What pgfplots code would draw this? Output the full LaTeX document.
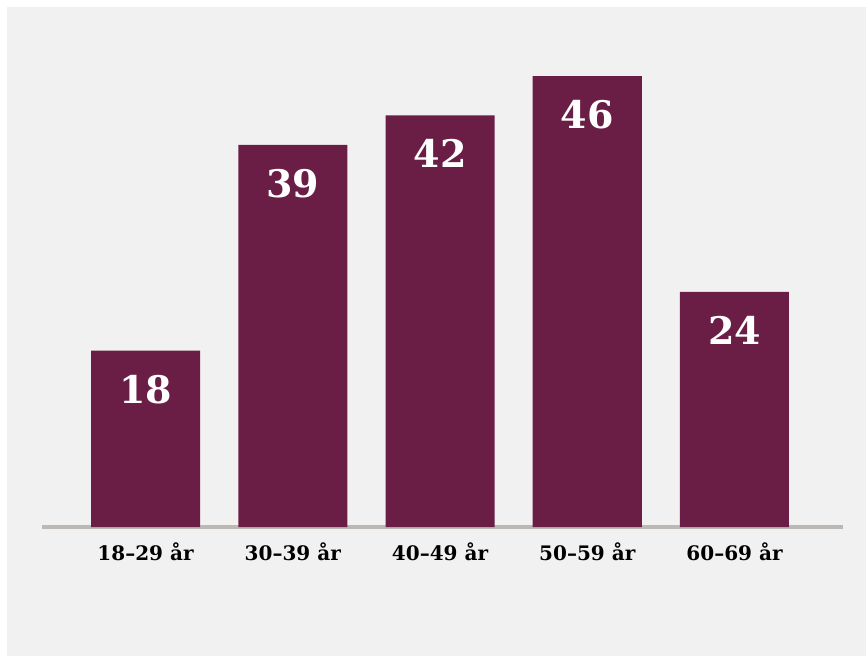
\documentclass[border=0pt]{standalone}
\usepackage{fontspec}
\setmainfont{DejaVu Serif}
\usepackage{pgfplots}
\pgfplotsset{compat=1.18}
\definecolor{barcol}{RGB}{107,30,69}
\definecolor{basecol}{RGB}{190,184,180}
\definecolor{bgcol}{RGB}{241,241,241}
\begin{document}
\begin{tikzpicture}
\fill[white] (-42pt,-129pt) rectangle (824pt,527pt);
\fill[bgcol] (-35pt,-129pt) rectangle (824pt,520pt);
\useasboundingbox (-42pt,-129pt) rectangle (824pt,527pt);
\begin{axis}[
  at={(0pt,0pt)}, anchor=south west,
  scale only axis,
  width=801pt, height=490pt,
  xmin=-0.703, xmax=4.737,
  ymin=0, ymax=50,
  axis x line*=bottom,
  axis y line=none,
  x axis line style={-, line width=4pt, color=basecol},
  xtick=data,
  xticklabels={18–29 år,30–39 år,40–49 år,50–59 år,60–69 år},
  major tick length=0pt,
  xticklabel style={font=\fontsize{20}{22}\selectfont\bfseries, text=black, inner sep=0pt, anchor=north, yshift=-16pt},
  ytick=\empty,
  ybar, bar width=109pt,
  clip=false,
  /pgf/number format/assume math mode=true,
  nodes near coords,
  every node near coord/.append style={font=\fontsize{38}{40}\selectfont\bfseries, text=white, anchor=north, inner sep=0pt, yshift=-24pt},
]
\addplot[fill=barcol, draw=none] coordinates {(0,18) (1,39) (2,42) (3,46) (4,24)};
\end{axis}
\end{tikzpicture}
\end{document}
